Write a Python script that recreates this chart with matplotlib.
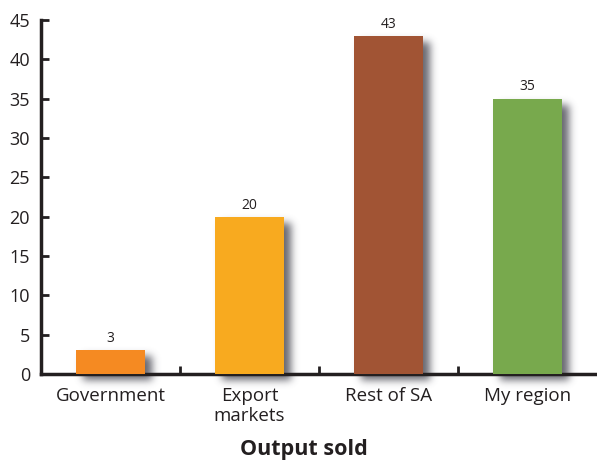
import numpy as np
import matplotlib
matplotlib.use("Agg")
import matplotlib.pyplot as plt

categories = ["Government", "Export\nmarkets", "Rest of SA", "My region"]
values = [3, 20, 43, 35]
colors = ["#F58A22", "#F8AA1F", "#A15434", "#78A94D"]
y_ticks = [0, 5, 10, 15, 20, 25, 30, 35, 40, 45]
x_title = "Output sold"

plt.rcParams["font.family"] = ["Open Sans", "DejaVu Sans"]
INK = "#231F20"

W, H = 597, 461
fig = plt.figure(figsize=(W / 100, H / 100), dpi=100)
fig.patch.set_facecolor("white")
ax = fig.add_axes([41 / W, (H - 374) / H, 556 / W, 354 / H])
ax.patch.set_visible(False)

x = np.arange(len(categories))
bars = ax.bar(x, values, width=0.5, color=colors, zorder=3)

for xi, v in zip(x, values):
    ax.annotate(str(v), (xi, v), xytext=(0, 3), textcoords="offset points",
                ha="center", va="bottom", fontsize=10, color=INK)

ax.set_xlim(-0.5, len(categories) - 0.5)
ax.set_ylim(0, 45)
ax.set_yticks(y_ticks)
ax.set_xticks(x)
ax.set_xticklabels(categories, fontsize=13.5, color=INK, linespacing=1.2)
ax.set_xticks(np.arange(len(categories) - 1) + 0.5, minor=True)
ax.tick_params(axis="y", direction="in", length=6, width=2, color=INK,
               labelsize=13, labelcolor=INK, pad=8)
ax.tick_params(axis="x", which="major", length=0, pad=9)
ax.tick_params(axis="x", which="minor", direction="in", length=6, width=2, color=INK)

for s in ["top", "right"]:
    ax.spines[s].set_visible(False)
for s in ["left", "bottom"]:
    ax.spines[s].set_linewidth(2.5)
    ax.spines[s].set_color(INK)
    ax.spines[s].set_capstyle("projecting")

fig.text(304 / W, (H - 455) / H, x_title, ha="center", va="baseline",
         fontsize=15.5, fontweight="bold", color=INK)

# soft drop shadow behind the bars
fig.canvas.draw()
mask = np.zeros((H, W))
dx, dy = 7, -6
for b in bars:
    bb = b.get_window_extent()
    x0, x1 = int(round(bb.x0 + dx)), int(round(bb.x1 + dx))
    y0, y1 = int(round(bb.y0 + dy)), int(round(bb.y1 + dy))
    mask[max(y0, 0):max(y1, 0), max(x0, 0):min(x1, W)] = 1.0

sigma = 4.0
r = int(3 * sigma)
k = np.exp(-0.5 * (np.arange(-r, r + 1) / sigma) ** 2)
k /= k.sum()
mask = np.apply_along_axis(lambda m: np.convolve(m, k, mode="same"), 0, mask)
mask = np.apply_along_axis(lambda m: np.convolve(m, k, mode="same"), 1, mask)

rgba = np.zeros((H, W, 4))
rgba[..., 0] = 0.30
rgba[..., 1] = 0.30
rgba[..., 2] = 0.34
rgba[..., 3] = np.clip(mask * 0.85, 0, 1)
fig.figimage(rgba, xo=0, yo=0, origin="lower", zorder=-1)

fig.savefig("out.png", dpi=100)
